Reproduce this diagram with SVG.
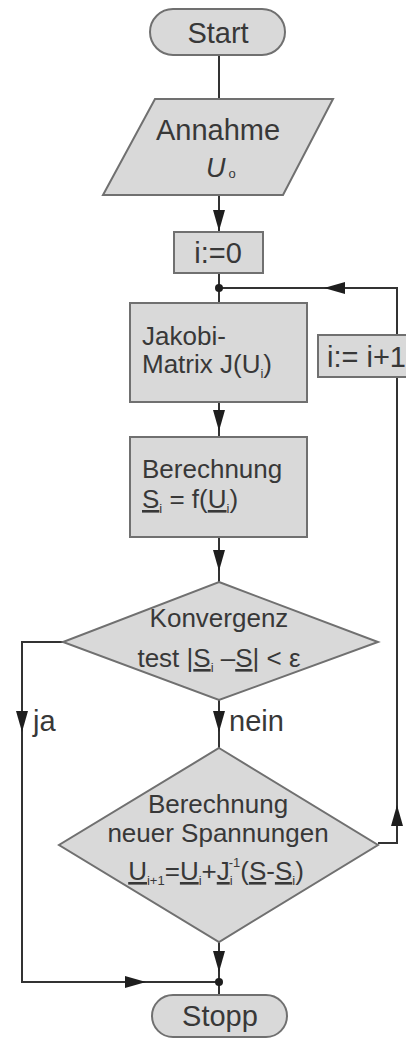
<svg xmlns="http://www.w3.org/2000/svg" xmlns:xlink="http://www.w3.org/1999/xlink" width="406" height="1039" viewBox="0 0 406 1039">
  <style>
    .shape { fill: #d9d9d9; stroke: #707070; stroke-width: 2; }
    .line { fill: none; stroke: #333; stroke-width: 2; }
    .lbl { font-family: "Liberation Sans", Arial, sans-serif; fill: #383838; }
    .big { font-size: 29px; }
    .mid { font-size: 26px; }
    .ul { text-decoration: underline; }
    .sub { font-size: 13px; }
  </style>
  <defs>
    <!-- arrowhead pointing right, tip at origin -->
    <path id="ah" d="M0,0 L-21,-6 L-21,6 Z" fill="#1e1e1e"/>
  </defs>

  <g id="connectors">
    <path class="line" d="M219,55 V99"/>
    <path class="line" d="M219,195 V232"/>
    <path class="line" d="M219,273 V303"/>
    <path class="line" d="M219,288 H397 V843 H378"/>
    <path class="line" d="M219,402 V437"/>
    <path class="line" d="M219,537 V582"/>
    <path class="line" d="M63,642 H22 V982 H219"/>
    <path class="line" d="M219,700 V748"/>
    <path class="line" d="M219,942 V995"/>
    <circle cx="219" cy="288" r="4" fill="#1e1e1e"/>
    <circle cx="219" cy="982" r="4" fill="#1e1e1e"/>
    <use xlink:href="#ah" transform="translate(219,231) rotate(90)"/>
    <use xlink:href="#ah" transform="translate(324,288) rotate(180)"/>
    <use xlink:href="#ah" transform="translate(219,431) rotate(90)"/>
    <use xlink:href="#ah" transform="translate(219,571) rotate(90)"/>
    <use xlink:href="#ah" transform="translate(22,732) rotate(90)"/>
    <use xlink:href="#ah" transform="translate(219,732) rotate(90)"/>
    <use xlink:href="#ah" transform="translate(397,805) rotate(-90)"/>
    <use xlink:href="#ah" transform="translate(219,972) rotate(90)"/>
    <use xlink:href="#ah" transform="translate(146,982)"/>
    <text class="lbl big" x="33" y="731">ja</text>
    <text class="lbl big" x="229" y="731">nein</text>
  </g>

  <g id="start">
    <rect class="shape" x="150" y="9" width="135" height="46" rx="23"/>
    <text class="lbl big" x="218" y="43" text-anchor="middle">Start</text>
  </g>

  <g id="annahme">
    <polygon class="shape" points="155,99 333,99 283,195 103,195"/>
    <text class="lbl big" x="218" y="140" text-anchor="middle">Annahme</text>
    <text class="lbl" x="206" y="177" font-size="27" font-style="italic">U<tspan class="sub" dx="3" dy="1" font-style="normal">o</tspan></text>
  </g>

  <g id="init">
    <rect class="shape" x="174" y="232" width="89" height="41"/>
    <text class="lbl big" x="218" y="263" text-anchor="middle">i:=0</text>
  </g>

  <g id="increment">
    <rect class="shape" x="318" y="335" width="100" height="42"/>
    <text class="lbl big" x="327" y="367">i:= i+1</text>
  </g>

  <g id="jakobi">
    <rect class="shape" x="130" y="303" width="177" height="99"/>
    <text class="lbl mid" x="142" y="345">Jakobi-</text>
    <text class="lbl mid" x="142" y="373">Matrix J(U<tspan class="sub" dy="5">i</tspan><tspan dy="-5">)</tspan></text>
  </g>

  <g id="berechnung">
    <rect class="shape" x="130" y="437" width="177" height="100"/>
    <text class="lbl mid" x="142" y="478">Berechnung</text>
    <text class="lbl mid" x="142" y="508"><tspan class="ul">S</tspan><tspan class="sub" dy="5">i</tspan><tspan dy="-5"> = f(</tspan><tspan class="ul">U</tspan><tspan class="sub" dy="5">i</tspan><tspan dy="-5">)</tspan></text>
  </g>

  <g id="konvergenz">
    <polygon class="shape" points="219,582 378,642 219,700 63,642"/>
    <text class="lbl mid" x="219" y="627" text-anchor="middle">Konvergenz</text>
    <text class="lbl mid" x="219" y="667" text-anchor="middle">test |<tspan class="ul">S</tspan><tspan class="sub" dy="5">i</tspan><tspan dy="-5"> –</tspan><tspan class="ul">S</tspan>| &lt; ε</text>
  </g>

  <g id="neue-spannungen">
    <polygon class="shape" points="219,748 378,845 219,942 59,845"/>
    <text class="lbl mid" x="218" y="813" text-anchor="middle">Berechnung</text>
    <text class="lbl mid" x="218" y="842" text-anchor="middle">neuer Spannungen</text>
    <text class="lbl" x="216" y="880" font-size="26" text-anchor="middle"><tspan class="ul">U</tspan><tspan class="sub" dy="5">i+1</tspan><tspan dy="-5">=</tspan><tspan class="ul">U</tspan><tspan class="sub" dy="5">i</tspan><tspan dy="-5">+</tspan><tspan class="ul">J</tspan><tspan class="sub" dy="5">i</tspan><tspan class="sub" dx="-4" dy="-18">-1</tspan><tspan dy="13">(</tspan><tspan class="ul">S</tspan>-<tspan class="ul">S</tspan><tspan class="sub" dy="5">i</tspan><tspan dy="-5">)</tspan></text>
  </g>

  <g id="stopp">
    <rect class="shape" x="152" y="995" width="135" height="42" rx="21"/>
    <text class="lbl big" x="220" y="1026" text-anchor="middle">Stopp</text>
  </g>
</svg>
